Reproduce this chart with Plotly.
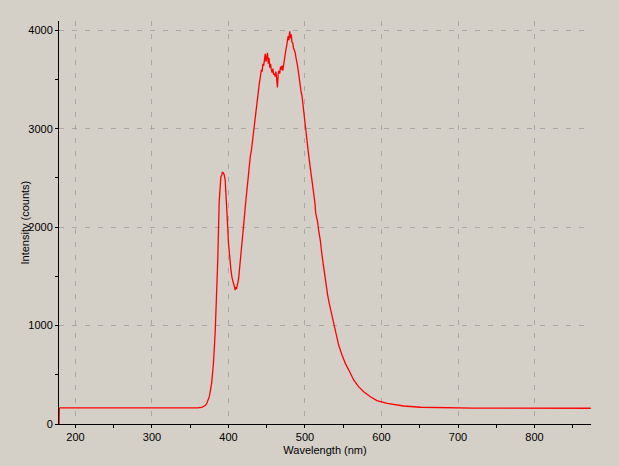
import plotly.graph_objects as go

# Wavelength (nm) and intensity (counts)
wavelength = [178.6, 178.9, 190, 220, 250, 280, 310, 340, 360, 365, 367, 370, 372, 375, 378, 380.4,
              382.6, 384.8, 386, 387.8, 389, 390, 391.3, 392, 393.5, 394.5, 395.7, 397, 397.9,
              399, 400, 401, 402.2, 403.3, 404.5, 405.5, 406.5, 407.5, 408.8, 409.5, 410.5, 411.5,
              413, 414, 415.3, 417.5, 419.6, 421.9, 424, 426.2, 428.4, 430,
              431, 432, 433, 434, 435, 436, 437, 438, 439, 440, 441, 442, 443, 444, 445, 446, 447,
              448, 449, 450, 451, 452, 453, 454, 455, 456, 457, 458, 459, 460, 461, 462, 463, 464,
              465, 466, 467, 468, 469, 470, 471, 472, 473, 474, 475, 476, 477, 478, 479, 480, 481,
              482, 483, 484, 485, 486, 487, 488, 489, 490, 491, 492, 493, 494, 495, 496, 497, 498,
              499, 500, 501, 502.6, 504.8, 506, 507.8, 509.6, 511.3, 513, 514, 516.5, 517.8, 520,
              522.2, 524.3, 526, 528, 529.6, 532.2, 535.3, 538.4, 541, 544, 548.4, 552.7, 558.4,
              563.6, 570, 576.7, 585.5, 594, 607.3, 629, 651, 680, 720, 760, 800, 840, 873.5]
intensity = [0, 163, 163, 162, 163, 163, 162, 163, 164, 168, 175, 190, 215, 280, 416, 620,
             924, 1330, 1665, 2244, 2477, 2510, 2528, 2560, 2548, 2530, 2477, 2330, 2203,
             2000, 1837, 1720, 1640, 1560, 1492, 1460, 1431, 1400, 1360, 1390, 1370, 1410,
             1462, 1540, 1634, 1797, 2000, 2203, 2376, 2548, 2711, 2782,
             2850, 2950, 3010, 3080, 3120, 3200, 3260, 3300, 3390, 3440, 3490, 3560, 3600, 3580,
             3660, 3640, 3700, 3760, 3680, 3740, 3770, 3660, 3720, 3620, 3660, 3600, 3570, 3610,
             3550, 3560, 3530, 3580, 3520, 3420, 3560, 3590, 3560, 3630, 3600, 3640, 3590, 3660,
             3700, 3740, 3800, 3840, 3880, 3940, 3900, 3990, 3920, 3960, 3880, 3870, 3820, 3800,
             3780, 3730, 3700, 3650, 3600, 3530, 3480, 3420, 3370, 3340, 3260, 3200, 3120, 3080,
             3000, 2880, 2731, 2629, 2548, 2447, 2360, 2244, 2142, 2054, 1970, 1868, 1716, 1597,
             1510, 1428, 1310, 1208, 1107, 1005, 904, 802, 700, 616, 531, 447, 379, 328, 277,
             237, 210, 183, 170, 164, 162, 161, 161, 160, 160]

x_ticks = [200, 300, 400, 500, 600, 700, 800]
y_ticks = [0, 1000, 2000, 3000, 4000]

bg = "#d4d0c8"
font = dict(family="Liberation Sans, Arial, sans-serif", size=11, color="#000000")

fig = go.Figure(go.Scatter(x=wavelength, y=intensity, mode="lines",
                           line=dict(color="#ff0000", width=1.3), hoverinfo="skip"))

fig.update_layout(
    width=619, height=466,
    margin=dict(l=59, r=28, t=21, b=42),
    paper_bgcolor=bg, plot_bgcolor=bg,
    font=font, showlegend=False,
)
fig.update_xaxes(
    range=[178.5, 873.8], tickvals=x_ticks, ticktext=[str(v) for v in x_ticks],
    showline=True, linecolor="#000000", linewidth=1, layer="below traces",
    ticks="outside", ticklen=3, tickcolor="#000000",
    minor=dict(ticks="outside", ticklen=3, tickcolor="#000000", dtick=50, tick0=0, showgrid=False),
    showgrid=True, gridcolor="#a8a8a8", griddash="5px,8px", gridwidth=1,
    zeroline=False, title=dict(text="Wavelength (nm)", standoff=4, font=font),
)
fig.update_yaxes(
    range=[0, 4094], tickvals=y_ticks, ticktext=[str(v) for v in y_ticks],
    showline=True, linecolor="#000000", linewidth=1, layer="below traces",
    ticks="outside", ticklen=3, tickcolor="#000000",
    minor=dict(ticks="outside", ticklen=3, tickcolor="#000000", dtick=500, tick0=0, showgrid=False),
    showgrid=True, gridcolor="#a8a8a8", griddash="5px,8px", gridwidth=1,
    zeroline=False,
)
fig.add_annotation(
    text="Intensity (counts)", textangle=-90, showarrow=False,
    xref="paper", yref="paper", x=(24 - 59) / 532, y=0.5,
    xanchor="center", yanchor="middle", font=font,
)

fig.write_html("out.html")
